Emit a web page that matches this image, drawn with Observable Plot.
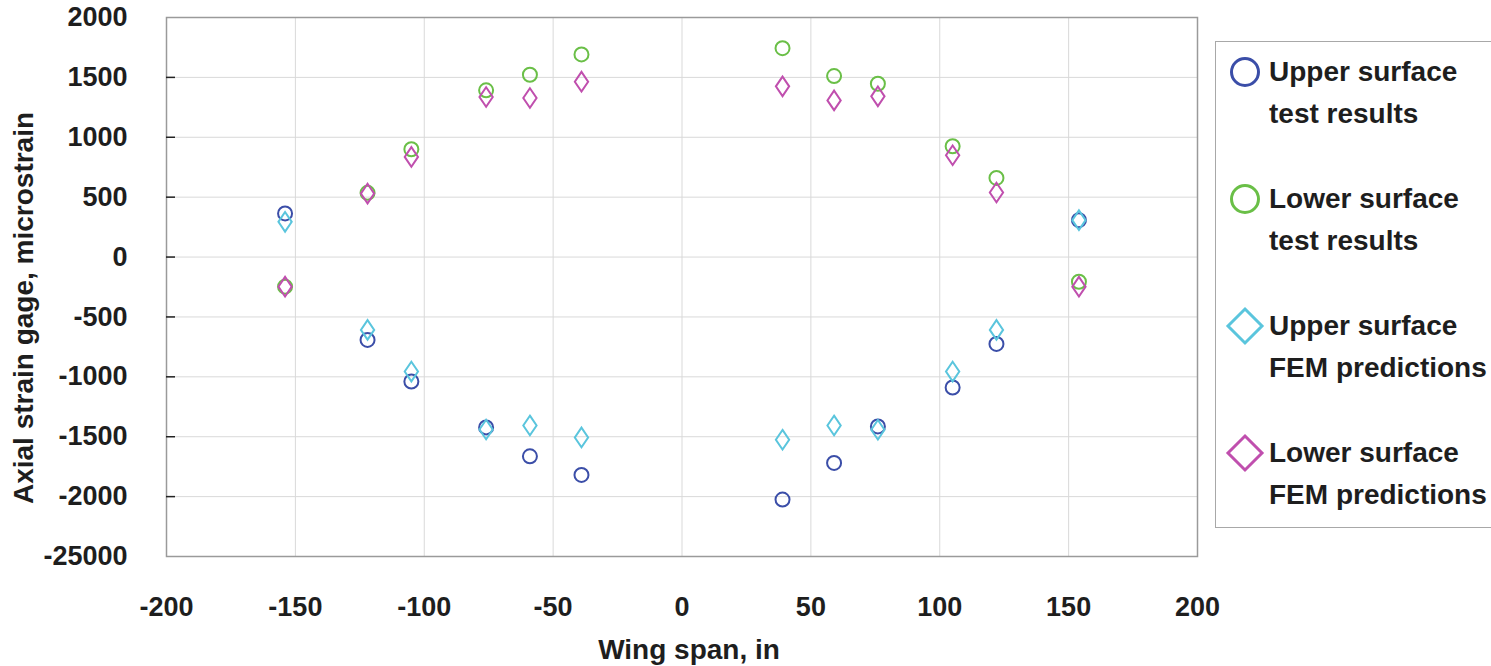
<!DOCTYPE html>
<html>
<head>
<meta charset="utf-8">
<script src="https://cdn.jsdelivr.net/npm/d3@7"></script>
<script src="https://cdn.jsdelivr.net/npm/@observablehq/plot@0.6"></script>
<style>
  html, body { margin: 0; padding: 0; background: #fff; }
  #wrap { position: relative; width: 1491px; height: 666px; overflow: hidden; font-family: "Liberation Sans", Arial, Helvetica, sans-serif; }
  #chart { position: absolute; left: 0; top: 0; }
  #legend { position: absolute; left: 1215px; top: 41px; width: 300px; height: 487px; border: 1.5px solid #a8a8a8; box-sizing: border-box; background: #fff; }
  .item { position: absolute; left: 0; width: 300px; }
  .item svg { position: absolute; left: 8px; top: -20px; }
  .item .lbl { position: absolute; left: 53px; top: -21px; font-size: 28px; font-weight: bold; color: #1e1e1e; line-height: 42px; white-space: nowrap; }
</style>
</head>
<body>
<div id="wrap">
  <div id="chart"></div>
  <div id="legend"></div>
</div>
<script>
// ---- data ----
const span = [-154, -122, -105, -76, -59, -39, 39, 59, 76, 105, 122, 154];
const upperTest = [364, -692, -1039, -1422, -1664, -1819, -2025, -1719, -1414, -1089, -725, 308];
const lowerTest = [-247, 536, 900, 1392, 1522, 1692, 1744, 1511, 1447, 925, 661, -206];
const upperFEM  = [294, -608, -956, -1440, -1406, -1506, -1525, -1406, -1442, -956, -608, 308];
const lowerFEM  = [-247, 530, 836, 1336, 1328, 1464, 1425, 1308, 1342, 850, 539, -247];

const xTicks = [-200, -150, -100, -50, 0, 50, 100, 150, 200];
const xTickLabels = ["-200", "-150", "-100", "-50", "0", "50", "100", "150", "200"];
const yTicks = [2000, 1500, 1000, 500, 0, -500, -1000, -1500, -2000, -2500];
const yTickLabels = ["2000", "1500", "1000", "500", "0", "-500", "-1000", "-1500", "-2000", "-25000"];

const seriesNames = ["Upper surface test results", "Lower surface test results", "Upper surface FEM predictions", "Lower surface FEM predictions"];
const legendLines = [["Upper surface", "test results"], ["Lower surface", "test results"], ["Upper surface", "FEM predictions"], ["Lower surface", "FEM predictions"]];
const colors = ["#3b4ea8", "#6abf47", "#5ac5dd", "#c04fae"];
const shapes = ["circle", "circle", "diamond", "diamond"];
const seriesValues = [upperTest, lowerTest, upperFEM, lowerFEM];

// ---- table ----
const rows = [];
seriesValues.forEach((vals, s) => vals.forEach((v, i) => rows.push({series: seriesNames[s], x: span[i], y: v, s})));

const tallDiamond = {
  draw(ctx, size) {
    const r = Math.sqrt(size / Math.PI);
    const w = r * 0.95, h = r * 1.4;
    ctx.moveTo(0, -h); ctx.lineTo(w, 0); ctx.lineTo(0, h); ctx.lineTo(-w, 0); ctx.closePath();
  }
};

const font = "'Liberation Sans', Arial, Helvetica, sans-serif";
const innerY = yTicks.filter(d => d > yTicks[yTicks.length - 1] && d < yTicks[0]);

const marks = [
  Plot.gridX(xTicks, {stroke: "#d9d9d9", strokeOpacity: 1, strokeWidth: 1}),
  Plot.gridY(yTicks, {stroke: "#d9d9d9", strokeOpacity: 1, strokeWidth: 1}),
  Plot.frame({stroke: "#9a9a9a", strokeWidth: 1.5}),
  Plot.axisY(yTicks, {
    anchor: "left", tickSize: 0, tickPadding: 39, label: null,
    tickFormat: (d) => yTickLabels[yTicks.indexOf(d)],
    fontSize: 27, fontWeight: "bold", fill: "#1e1e1e"
  }),
  Plot.axisX(xTicks, {
    anchor: "bottom", tickSize: 0, tickPadding: 40, label: null,
    tickFormat: (d) => xTickLabels[xTicks.indexOf(d)],
    fontSize: 27, fontWeight: "bold", fill: "#1e1e1e"
  }),
  // short inward ticks on the left edge
  Plot.ruleY(innerY, {x1: xTicks[0], x2: xTicks[0] + 3.5, stroke: "#222", strokeWidth: 1.5})
];

seriesNames.forEach((name, s) => {
  marks.push(Plot.dot(rows.filter(r => r.s === s), {
    x: "x", y: "y",
    r: 7,
    symbol: shapes[s] === "circle" ? "circle" : tallDiamond,
    stroke: colors[s], strokeWidth: 2, fill: "none"
  }));
});

marks.push(Plot.text(["Axial strain gage, microstrain"], {
  frameAnchor: "left", rotate: -90, dx: -142, dy: 21, text: d => d,
  textAnchor: "middle", fontSize: 28, fontWeight: "bold", fill: "#1e1e1e", lineAnchor: "middle"
}));
marks.push(Plot.text(["Wing span, in"], {
  frameAnchor: "bottom", dy: 94, dx: 7, text: d => d,
  textAnchor: "middle", fontSize: 28, fontWeight: "bold", fill: "#1e1e1e", lineAnchor: "middle"
}));

const chart = Plot.plot({
  width: 1205,
  height: 666,
  marginLeft: 166,
  marginRight: 8,
  marginTop: 17,
  marginBottom: 110,
  x: {domain: [-200, 200], axis: null},
  y: {domain: [-2500, 2000], axis: null},
  style: {fontFamily: font, background: "#fff", overflow: "visible"},
  marks
});
document.getElementById("chart").appendChild(chart);

// ---- legend ----
const legend = document.getElementById("legend");
legendLines.forEach((lines, i) => {
  const item = document.createElement("div");
  item.className = "item";
  item.style.top = (30 + 127 * i) + "px";
  const ns = "http://www.w3.org/2000/svg";
  const svg = document.createElementNS(ns, "svg");
  svg.setAttribute("width", 42); svg.setAttribute("height", 42);
  let shape;
  if (shapes[i] === "circle") {
    shape = document.createElementNS(ns, "circle");
    shape.setAttribute("cx", 21); shape.setAttribute("cy", 20); shape.setAttribute("r", 13.5);
  } else {
    shape = document.createElementNS(ns, "path");
    shape.setAttribute("d", "M21,3L38,20L21,37L4,20Z");
  }
  shape.setAttribute("fill", "none");
  shape.setAttribute("stroke", colors[i]);
  shape.setAttribute("stroke-width", 3);
  svg.appendChild(shape);
  item.appendChild(svg);
  const lbl = document.createElement("div");
  lbl.className = "lbl";
  lbl.innerHTML = lines.join("<br>");
  item.appendChild(lbl);
  legend.appendChild(item);
});
</script>
</body>
</html>
